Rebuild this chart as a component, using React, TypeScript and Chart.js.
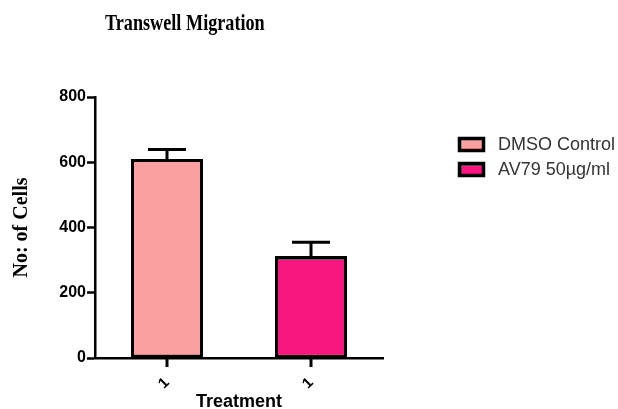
import React, { useEffect, useRef } from "react";
import { Chart, registerables } from "chart.js";

Chart.register(...registerables);

const categories = ["1", "1"];
const seriesNames = ["DMSO Control", "AV79 50µg/ml"];
const dmsoValues = [610, null];
const av79Values = [null, 313];
const dmsoErrors = [29, null];
const av79Errors = [null, 42];
const seriesColors = ["#FAA0A0", "#F7177F"];
const yTicks = [0, 200, 400, 600, 800];
const chartTitle = "Transwell Migration";

const errorBarPlugin = {
  id: "errorBars",
  afterDatasetsDraw(chart: any) {
    const ctx = chart.ctx;
    const yScale = chart.scales.y;
    chart.data.datasets.forEach((ds: any, di: number) => {
      const meta = chart.getDatasetMeta(di);
      meta.data.forEach((el: any, i: number) => {
        const v = ds.data[i];
        const e = ds.errors[i];
        if (v == null || e == null) return;
        const yTop = yScale.getPixelForValue(v + e);
        const yBar = yScale.getPixelForValue(v);
        ctx.save();
        ctx.strokeStyle = "#000";
        ctx.lineWidth = 3;
        ctx.beginPath();
        ctx.moveTo(el.x, yBar);
        ctx.lineTo(el.x, yTop);
        ctx.moveTo(el.x - 19, yTop);
        ctx.lineTo(el.x + 19, yTop);
        ctx.stroke();
        ctx.restore();
      });
    });
  },
};

const titleLegendPlugin = {
  id: "titleLegend",
  afterDraw(chart: any) {
    const ctx = chart.ctx;
    const xs = chart.scales.x;
    const bottom = chart.chartArea.bottom;
    ctx.save();
    ctx.fillStyle = "#000";
    for (let i = 0; i < categories.length; i++) {
      const x = Math.round(xs.getPixelForValue(i));
      ctx.fillRect(x - 1.5, bottom, 3, 9);
    }
    ctx.restore();

    ctx.save();
    ctx.fillStyle = "#000";
    ctx.font = "bold 18px 'Liberation Serif', 'Times New Roman', serif";
    ctx.textBaseline = "alphabetic";
    ctx.textAlign = "left";
    ctx.translate(105, 30);
    ctx.scale(1.01, 1.25);
    ctx.fillText(chartTitle, 0, 0);
    ctx.restore();

    ctx.save();
    chart.data.datasets.forEach((ds: any, i: number) => {
      const y = 137 + i * 25;
      ctx.fillStyle = ds.backgroundColor;
      ctx.fillRect(458, y, 27, 15);
      ctx.strokeStyle = "#000";
      ctx.lineWidth = 3.5;
      ctx.strokeRect(459.5, y + 1.5, 24, 12);
      ctx.fillStyle = "#333";
      ctx.font = "18px 'Liberation Sans', Arial, sans-serif";
      ctx.textBaseline = "middle";
      ctx.textAlign = "left";
      ctx.fillText(ds.label, 498, y + 8);
    });
    ctx.restore();
  },
};

export default function App() {
  const ref = useRef<HTMLCanvasElement>(null);
  useEffect(() => {
    document.body.style.margin = "0";
    const chart = new Chart(ref.current!, {
      type: "bar",
      data: {
        labels: categories,
        datasets: [
          {
            label: seriesNames[0],
            data: dmsoValues,
            errors: dmsoErrors,
            backgroundColor: seriesColors[0],
            borderColor: "#000",
            borderWidth: 3,
            borderSkipped: false,
          } as any,
          {
            label: seriesNames[1],
            data: av79Values,
            errors: av79Errors,
            backgroundColor: seriesColors[1],
            borderColor: "#000",
            borderWidth: 3,
            borderSkipped: false,
          } as any,
        ],
      },
      options: {
        responsive: false,
        animation: false,
        grouped: false,
        barPercentage: 0.5,
        categoryPercentage: 1.0,
        layout: { padding: { left: 0, top: 97, right: 235, bottom: 0 } },
        plugins: {
          legend: { display: false },
          title: { display: false },
          tooltip: { enabled: false },
        },
        scales: {
          y: {
            min: 0,
            max: 800,
            afterFit: (s: any) => {
              s.width = 95;
            },
            afterBuildTicks: (s: any) => {
              s.ticks = yTicks.map((v) => ({ value: v }));
            },
            ticks: {
              stepSize: 200,
              color: "#000",
              padding: 1,
              font: { family: "'Liberation Sans', Arial, sans-serif", size: 16, weight: "bold" },
            },
            grid: {
              drawOnChartArea: false,
              drawTicks: true,
              tickLength: 8,
              tickWidth: 2.5,
              tickColor: "#000",
            },
            border: { color: "#000", width: 2.5 },
            title: {
              display: true,
              text: "No: of Cells",
              color: "#000",
              font: { family: "'Liberation Serif', 'Times New Roman', serif", size: 20, weight: "bold" },
              padding: { top: 10, bottom: 0 },
            },
          },
          x: {
            offset: true,
            afterFit: (s: any) => {
              s.height = 51;
            },
            ticks: {
              minRotation: 45,
              maxRotation: 45,
              color: "#000",
              padding: 9,
              font: { family: "'Liberation Sans', Arial, sans-serif", size: 15, weight: "bold" },
            },
            grid: {
              drawOnChartArea: false,
              drawTicks: true,
              tickLength: 7,
              tickWidth: 0,
              tickColor: "rgba(0,0,0,0)",
            },
            border: { color: "#000", width: 2.5 },
            title: {
              display: true,
              text: "Treatment",
              color: "#000",
              font: { family: "'Liberation Sans', Arial, sans-serif", size: 18, weight: "bold" },
              padding: { top: 0, bottom: -4 },
            },
          },
        },
      } as any,
      plugins: [errorBarPlugin, titleLegendPlugin],
    });
    return () => chart.destroy();
  }, []);
  return (
    <div style={{ position: "absolute", left: 0, top: 0 }}>
      <canvas ref={ref} width={618} height={409} style={{ display: "block" }} />
    </div>
  );
}
